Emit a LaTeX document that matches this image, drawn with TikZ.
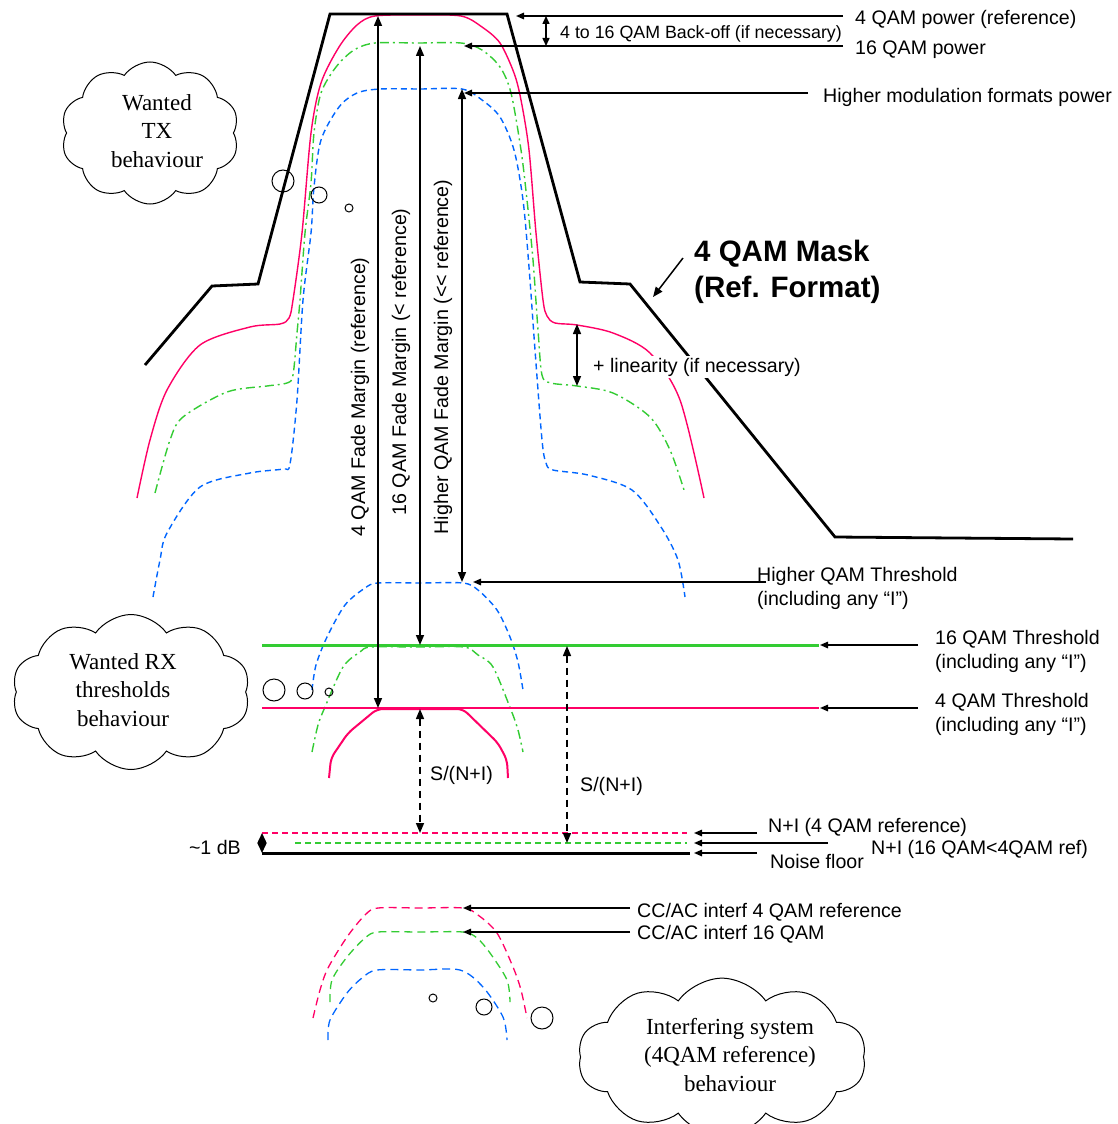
\documentclass[tikz,border=0pt]{standalone}
\usepackage{fontspec}
\setmainfont{Liberation Serif}
\setsansfont{Liberation Sans}
\usetikzlibrary{arrows.meta,shapes.symbols}
\definecolor{qred}{RGB}{255,0,102}
\definecolor{qgreen}{RGB}{51,204,51}
\definecolor{qblue}{RGB}{0,102,255}
\begin{document}
\begin{tikzpicture}[x=1pt,y=-1pt,
  >={Triangle[length=10pt,width=8pt]},
  lab/.style={font=\sffamily\fontsize{19.6}{24}\selectfont, inner sep=0pt, anchor=base west},
  lab2/.style={font=\sffamily\fontsize{19.6}{24}\selectfont, inner sep=0pt, anchor=north west, align=left},
  rotlab/.style={font=\sffamily\fontsize{19.7}{24}\selectfont, inner sep=0pt, rotate=90},
  masksty/.style={line width=2.8pt, line join=miter},
  darr/.style={<->, line width=1.5pt},
  ptr/.style={-{Triangle[length=8pt,width=6.5pt]}, line width=1.5pt},
  ddarr/.style={<->, line width=1.5pt, dash pattern=on 7pt off 5pt},
  redc/.style={qred, line width=1.4pt},
  greenc/.style={qgreen, line width=1.4pt, dash pattern=on 9pt off 4pt on 2pt off 4pt},
  bluec/.style={qblue, line width=1.4pt, dash pattern=on 6pt off 4pt},
  bub/.style={circle, draw, line width=1pt, inner sep=0pt},
  cloudsty/.style={cloud, draw, line width=1pt, cloud puffs=10, cloud puff arc=110, cloud ignores aspect, inner sep=0pt, font=\rmfamily\fontsize{23}{28.5}\selectfont}
]
\useasboundingbox[fill=white] (0,0) rectangle (1117,1124);

% ---------------- TX spectra ----------------
\draw[redc] plot[smooth, tension=0.5] coordinates {(137,498) (150,440) (167,390) (200,345) (250,327) (280,324) (289,318) (293,300) (302,233) (311,133) (321,83) (339,47) (357,25) (375,16) (418,15) (461,16) (482,27) (500,43) (514,73) (521,100) (529,150) (536,233) (543,300) (547,316) (555,323) (577,325) (613,333) (650,353) (680,400) (704,498)};
\draw[greenc] plot[smooth, tension=0.5] coordinates {(155,493) (170,440) (183,417) (227,392) (267,386) (287,383) (293,375) (297,333) (300,300) (305,233) (311,183) (314,133) (321,93) (336,67) (354,50) (375,43) (418,43) (461,43) (482,50) (500,67) (511,93) (521,150) (527,200) (533,260) (538,330) (542,375) (551,383) (577,386) (613,393) (650,417) (670,450) (685,493)};
\draw[bluec] plot[smooth, tension=0.5] coordinates {(153,597) (160,560) (167,533) (200,487) (250,473) (283,469) (290,464) (297,400) (303,300) (311,233) (314,187) (321,140) (339,107) (357,93) (380,89) (420,89) (462,89) (482,100) (500,117) (514,150) (523,200) (529,267) (535,350) (542,440) (546,463) (553,470) (588,475) (632,490) (661,527) (678,560) (685,597)};

% ---------------- Mask ----------------
\draw[masksty] (145,365) -- (212,286) -- (258,284) -- (330,14) -- (507,14) -- (580,282) -- (630,284) -- (835,537) -- (1073,539);

% ---------------- RX curves ----------------
\draw[bluec] plot[smooth, tension=0.5] coordinates {(312,690) (316,665) (327,637) (345,605) (365,588) (378,583) (420,583) (463,583) (478,590) (497,610) (510,637) (518,662) (523,690)};
\draw[greenc] plot[smooth, tension=0.5] coordinates {(312,752) (318,725) (325,707) (343,667) (360,652) (371,647) (420,647) (464,647) (478,655) (493,667) (511,710) (518,730) (523,752)};
\draw[redc, line width=2pt, rounded corners=6pt] (329,778) -- (331,758) -- (348,733) -- (377,709) -- (463,709) -- (498,743) -- (507,760) -- (508,778);

\draw[qgreen, line width=3pt] (262,645) -- (819,645);
\draw[qred, line width=2.6pt] (262,708) -- (819,708);

% ---------------- Interference curves ----------------
\draw[qred, line width=1.3pt, dash pattern=on 8pt off 5pt] plot[smooth, tension=0.5] coordinates {(313,1018) (320,990) (328,968) (347,937) (365,915) (378,908) (420,908) (463,908) (478,915) (497,933) (513,967) (521,990) (527,1018)};
\draw[qgreen, line width=1.3pt, dash pattern=on 8pt off 5pt] plot[smooth, tension=0.5] coordinates {(330,1002) (332,980) (347,957) (365,938) (378,932) (420,932) (463,932) (477,938) (490,953) (507,980) (510,1002)};
\draw[qblue, line width=1.3pt, dash pattern=on 8pt off 5pt] plot[smooth, tension=0.5] coordinates {(328,1040) (330,1020) (347,993) (362,978) (377,970) (420,970) (460,970) (483,987) (503,1017) (507,1040)};

% ---------------- Noise lines ----------------
\draw[qred, line width=1.3pt, dash pattern=on 6pt off 4pt] (262,833) -- (687,833);
\draw[qgreen, line width=1.3pt, dash pattern=on 6pt off 4pt] (295,843) -- (687,843);
\draw[line width=3pt] (262,853) -- (690,853);

% ---------------- Coordinates ----------------
\coordinate (fm4t) at (378,16);   \coordinate (fm4b) at (378,708);
\coordinate (fm16t) at (420,46);  \coordinate (fm16b) at (420,645);
\coordinate (fmht) at (462,89);   \coordinate (fmhb) at (462,582);
\coordinate (bot) at (546,16);    \coordinate (bob) at (546,46);
\coordinate (p4s) at (843,16);    \coordinate (p4e) at (516,16);
\coordinate (p16s) at (843,46);   \coordinate (p16e) at (464,46);
\coordinate (phs) at (808,93);    \coordinate (phe) at (464,93);
\coordinate (mks) at (683,258);   \coordinate (mke) at (653,297);
\coordinate (lint) at (577,324);  \coordinate (linb) at (577,386);
\coordinate (hts) at (766,582);   \coordinate (hte) at (473,582);
\coordinate (t16s) at (918,645);  \coordinate (t16e) at (820,645);
\coordinate (t4s) at (918,708);   \coordinate (t4e) at (820,708);
\coordinate (sn1t) at (420,709);  \coordinate (sn1b) at (420,833);
\coordinate (sn2t) at (567,646);  \coordinate (sn2b) at (567,843);
\coordinate (dbt) at (262,833);   \coordinate (dbb) at (262,853);
\coordinate (n4s) at (757,833);   \coordinate (n4e) at (694,833);
\coordinate (n16s) at (828,843);  \coordinate (n16e) at (694,843);
\coordinate (nfs) at (757,853);   \coordinate (nfe) at (694,853);
\coordinate (cc4s) at (630,908);  \coordinate (cc4e) at (463,908);
\coordinate (cc16s) at (630,932); \coordinate (cc16e) at (463,932);

% ---------------- Arrows ----------------
\draw[darr] (fm4t) -- (fm4b);
\draw[darr] (fm16t) -- (fm16b);
\draw[darr] (fmht) -- (fmhb);
\draw[{Triangle[length=8pt,width=7pt]}-{Triangle[length=8pt,width=7pt]}, line width=1.5pt] (bot) -- (bob);
\draw[ptr] (p4s) -- (p4e);
\draw[ptr] (p16s) -- (p16e);
\draw[ptr] (phs) -- (phe);
\draw[-{Triangle[length=10pt,width=8pt]}, line width=1.5pt] (mks) -- (mke);
\draw[darr] (lint) -- (linb);
\draw[ptr] (hts) -- (hte);
\draw[ptr] (t16s) -- (t16e);
\draw[ptr] (t4s) -- (t4e);
\draw[ddarr] (sn1t) -- (sn1b);
\draw[ddarr] (sn2t) -- (sn2b);
\draw[{Triangle[length=10pt,width=9pt]}-{Triangle[length=10pt,width=9pt]}, line width=1.5pt] (dbt) -- (dbb);
\draw[ptr] (n4s) -- (n4e);
\draw[ptr] (n16s) -- (n16e);
\draw[ptr] (nfs) -- (nfe);
\draw[ptr] (cc4s) -- (cc4e);
\draw[ptr] (cc16s) -- (cc16e);

% ---------------- Labels ----------------
\node[lab] (l4p) at (855,25) {4 QAM power (reference)};
\node[lab] (l16p) at (855,55) {16 QAM power};
\node[lab, font=\sffamily\fontsize{17.8}{20}\selectfont] (lbo) at (560,39) {4 to 16 QAM Back-off (if necessary)};
\node[lab] (lhp) at (823,102) {Higher modulation formats power};
\node[lab2, font=\sffamily\bfseries\fontsize{29.5}{36}\selectfont] (lmask) at (694,240) {4 QAM Mask\\(Ref. Format)};
\node[lab, fill=white, inner sep=2pt] (llin) at (591,372) {+ linearity (if necessary)};
\node[rotlab] (lfm4) at (360,397) {4 QAM Fade Margin (reference)};
\node[rotlab] (lfm16) at (401,362) {16 QAM Fade Margin (< reference)};
\node[rotlab] (lfmh) at (443,357) {Higher QAM Fade Margin (<{}< reference)};
\node[lab2] (lht) at (757,567.5) {Higher QAM Threshold\\(including any “I”)};
\node[lab2] (l16t) at (935,630.5) {16 QAM Threshold\\(including any “I”)};
\node[lab2] (l4t) at (935,693.5) {4 QAM Threshold\\(including any “I”)};
\node[lab] (lsn1) at (430,780) {S/(N+I)};
\node[lab] (lsn2) at (580,791) {S/(N+I)};
\node[lab, anchor=base east] (ldb) at (241,854) {\textasciitilde1 dB};
\node[lab] (ln4) at (768,832) {N+I (4 QAM reference)};
\node[lab] (ln16) at (871,854) {N+I (16 QAM<4QAM ref)};
\node[lab] (lnf) at (770,868) {Noise floor};
\node[lab] (lcc4) at (637,917) {CC/AC interf 4 QAM reference};
\node[lab] (lcc16) at (637,939) {CC/AC interf 16 QAM};

% ---------------- Clouds and bubbles ----------------
\node[cloudsty, minimum width=178pt, minimum height=142pt] (txcloud) at (150,133) {\hspace*{14pt}\begin{tabular}{@{}c@{}}Wanted\\TX\\behaviour\end{tabular}};
\node[cloudsty, minimum width=238pt, minimum height=155pt] (rxcloud) at (131,692) {\begin{tabular}{@{}c@{}}Wanted RX\\thresholds\\behaviour\end{tabular}\hspace*{16pt}};
\node[cloudsty, minimum width=288pt, minimum height=132pt] (ifcloud) at (722,1057) {\hspace*{16pt}\begin{tabular}{@{}c@{}}Interfering system\\(4QAM reference)\\behaviour\end{tabular}};

\node[bub, minimum size=22pt] (tb1) at (283,181) {};
\node[bub, minimum size=16pt] (tb2) at (319,195) {};
\node[bub, minimum size=8pt] (tb3) at (349,208) {};
\node[bub, minimum size=22pt] (rb1) at (274,690) {};
\node[bub, minimum size=16pt] (rb2) at (305,691) {};
\node[bub, minimum size=8pt] (rb3) at (329,692) {};
\node[bub, minimum size=8pt] (ib1) at (433,998) {};
\node[bub, minimum size=16pt] (ib2) at (484,1007) {};
\node[bub, minimum size=22pt] (ib3) at (542,1018) {};
\end{tikzpicture}
\end{document}
